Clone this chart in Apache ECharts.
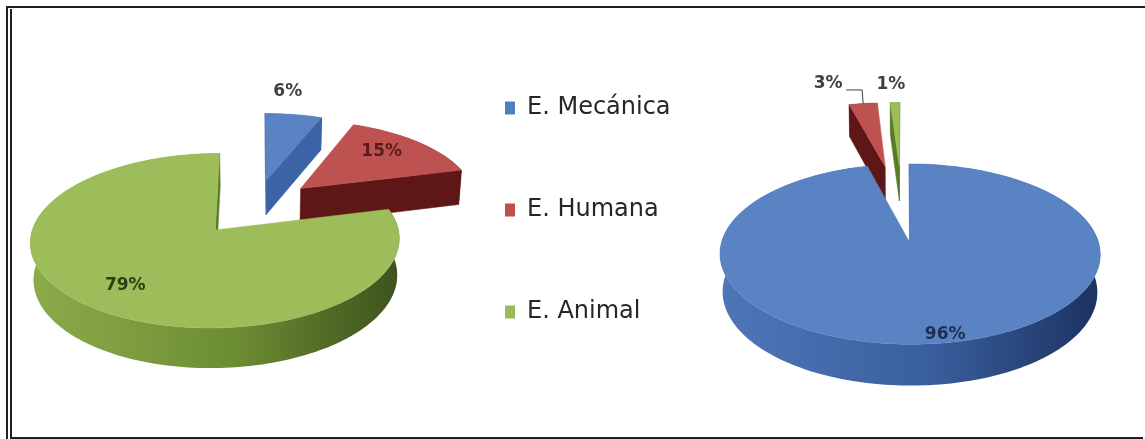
<!DOCTYPE html>
<html>
<head>
<meta charset="utf-8">
<script src="https://cdn.jsdelivr.net/npm/echarts@6/dist/echarts.min.js"></script>
<style>
  html, body { margin: 0; padding: 0; background: #ffffff; }
  #chart { position: absolute; left: 0; top: 0; width: 1145px; height: 439px; }
</style>
</head>
<body>
<div id="chart"></div>
<script>
// ---- data ----
const categories = ['E. Mecánica', 'E. Humana', 'E. Animal'];
const pieValuesLeft = [6, 15, 79];     // percent per category, left pie
const pieValuesRight = [96, 3, 1];     // percent per category, right pie
const seriesColors = ['#4f81bd', '#c0504d', '#9bbb59'];

// ---- 3D look ----
const TILT = 27 * Math.PI / 180;
const SA = Math.sin(TILT), CA = Math.cos(TILT);
const DIST = 7.5;       // camera distance, in pie radii
const THICK = 0.23;     // pie thickness, in pie radii

const faceStyles = [
  { top: '#5a83c4', radial: '#3b63a6', side: ['#4e76b8', '#3a5f9e', '#1c3261'], label: '#404040' },
  { top: '#bd5250', radial: '#5e1616', side: ['#8a2a2a', '#6a1b1b', '#4e1010'], label: '#5b1b1b' },
  { top: '#9dbc5a', radial: '#587a25', side: ['#8cac4a', '#6d8d33', '#3c531d'], label: '#2e3d12' }
];

// layout of each pie: centre, radius, per-slice explosion and label placement
const pies = [
  {
    values: pieValuesLeft, cx: 255, cy: 206.8, r: 177,
    explode: [0.353, 0.353, 0.353],
    labels: [
      { rho: 1.0, dx: -6, dy: -23, color: '#404040' },
      { rho: 0.6, dx: 9, dy: -8 },
      { rho: 0.7, dx: -3, dy: 5 }
    ]
  },
  {
    values: pieValuesRight, cx: 902.9, cy: 217.5, r: 182,
    explode: [0.3, 0.67, 0.67],
    labels: [
      { rho: 0.88, dx: 11, dy: 5, color: '#1f2d50' },
      { rho: 1.0, dx: -35, dy: -20, color: '#404040', leader: [[-1, -13.6], [-17, -13.6]] },
      { rho: 1.0, dx: -4, dy: -18, color: '#404040' }
    ]
  }
];

function proj(p, X, Y, z) {
  const up = Y * SA + z * CA;
  const d = Y * CA - z * SA;
  const f = DIST / (DIST + d);
  return [p.cx + p.r * X * f, p.cy - p.r * up * f];
}

function sliceGeom(p, i, value) {
  const total = p.values.reduce((a, b) => a + b, 0);
  let acc = 0;
  for (let j = 0; j < i; j++) acc += p.values[j];
  const a0 = acc / total * 2 * Math.PI;
  const a1 = (acc + value) / total * 2 * Math.PI;
  const mid = (a0 + a1) / 2;
  const e = p.explode[i];
  return { a0, a1, mid, ox: e * Math.sin(mid), oy: e * Math.cos(mid) };
}

function depthKey(p, j) {
  const g = sliceGeom(p, j, p.values[j]);
  const h = (g.a1 - g.a0) / 2;
  const c = h > 0 ? (2 * Math.sin(h)) / (3 * h) : 0;
  return g.oy + c * Math.cos(g.mid);
}

function drawOrder(p, i) {
  const keys = p.values.map((v, j) => depthKey(p, j));
  return keys.filter(k => k > keys[i]).length;
}

function rimPoint(p, g, phi, z) {
  return proj(p, g.ox + Math.sin(phi), g.oy + Math.cos(phi), z);
}

function faceVisible(g, normal) {
  // camera position in pie space
  const camY = -DIST * CA;
  return normal[0] * (0 - g.ox) + normal[1] * (camY - g.oy) > 0;
}

function renderSlice(params, api) {
  const si = params.seriesIndex;
  const pieIdx = api.value(1);
  const value = api.value(0);
  const p = pies[pieIdx];
  const g = sliceGeom(p, si, value);
  const st = faceStyles[si];
  const base = drawOrder(p, si) * 10;
  const steps = Math.max(2, Math.ceil((g.a1 - g.a0) / (Math.PI / 120)));
  const topRim = [], botRim = [];
  for (let k = 0; k <= steps; k++) {
    const phi = g.a0 + (g.a1 - g.a0) * k / steps;
    topRim.push(rimPoint(p, g, phi, 0));
    botRim.push(rimPoint(p, g, phi, -THICK));
  }
  const apexTop = proj(p, g.ox, g.oy, 0);
  const apexBot = proj(p, g.ox, g.oy, -THICK);
  const children = [];

  // curved outer wall
  children.push({
    type: 'polygon', z2: base + 1,
    shape: { points: topRim.concat(botRim.slice().reverse()) },
    style: {
      fill: new echarts.graphic.LinearGradient(0, 0, 1, 0, [
        { offset: 0, color: st.side[0] },
        { offset: 0.55, color: st.side[1] },
        { offset: 1, color: st.side[2] }
      ])
    }
  });

  // radial cut faces that face the viewer
  const cuts = [
    { n: [-Math.cos(g.a0), Math.sin(g.a0)], t: topRim[0], b: botRim[0] },
    { n: [Math.cos(g.a1), -Math.sin(g.a1)], t: topRim[steps], b: botRim[steps] }
  ];
  cuts.forEach(c => {
    if (faceVisible(g, c.n)) {
      children.push({
        type: 'polygon', z2: base + 2,
        shape: { points: [apexTop, c.t, c.b, apexBot] },
        style: { fill: st.radial, stroke: st.radial, lineWidth: 0.5 }
      });
    }
  });

  // top face
  children.push({
    type: 'polygon', z2: base + 3,
    shape: { points: [apexTop].concat(topRim) },
    style: { fill: st.top, stroke: st.top, lineWidth: 0.5 }
  });

  // value label
  const lb = p.labels[si];
  const anchor = proj(p, g.ox + lb.rho * Math.sin(g.mid), g.oy + lb.rho * Math.cos(g.mid), 0);
  children.push({
    type: 'text', z2: 200,
    style: {
      text: value + '%',
      x: anchor[0] + lb.dx, y: anchor[1] + lb.dy,
      fill: lb.color || st.label,
      fontFamily: 'DejaVu Sans', fontSize: 17, fontWeight: 'bold',
      align: 'center', verticalAlign: 'middle'
    }
  });
  if (lb.leader) {
    children.push({
      type: 'polyline', z2: 199,
      shape: { points: [anchor].concat(lb.leader.map(o => [anchor[0] + o[0], anchor[1] + o[1]])) },
      style: { stroke: '#404040', lineWidth: 1, fill: null }
    });
  }
  return { type: 'group', children };
}

const chart = echarts.init(document.getElementById('chart'), null, { renderer: 'canvas' });

const series = categories.map((name, i) => ({
  type: 'custom',
  name,
  coordinateSystem: 'none',
  itemStyle: { color: seriesColors[i] },
  renderItem: renderSlice,
  data: [[pieValuesLeft[i], 0], [pieValuesRight[i], 1]]
}));

chart.setOption({
  animation: false,
  backgroundColor: '#ffffff',
  legend: {
    data: categories,
    orient: 'vertical',
    left: 505,
    top: 96,
    padding: 0,
    itemWidth: 10,
    itemHeight: 13,
    itemGap: 78,
    icon: 'rect',
    selectedMode: false,
    textStyle: {
      fontFamily: 'DejaVu Sans', fontSize: 24, color: '#262626',
      lineHeight: 24, padding: [0, 0, 0, 7]
    }
  },
  graphic: [
    { type: 'rect', silent: true, shape: { x: 6, y: 6, width: 1139, height: 2 }, style: { fill: '#231f20' } },
    { type: 'rect', silent: true, shape: { x: 6, y: 6, width: 2, height: 433 }, style: { fill: '#231f20' } },
    { type: 'rect', silent: true, shape: { x: 10, y: 9, width: 2, height: 430 }, style: { fill: '#231f20' } },
    { type: 'rect', silent: true, shape: { x: 10, y: 437, width: 1133, height: 2 }, style: { fill: '#231f20' } }
  ],
  series
});
</script>
</body>
</html>
